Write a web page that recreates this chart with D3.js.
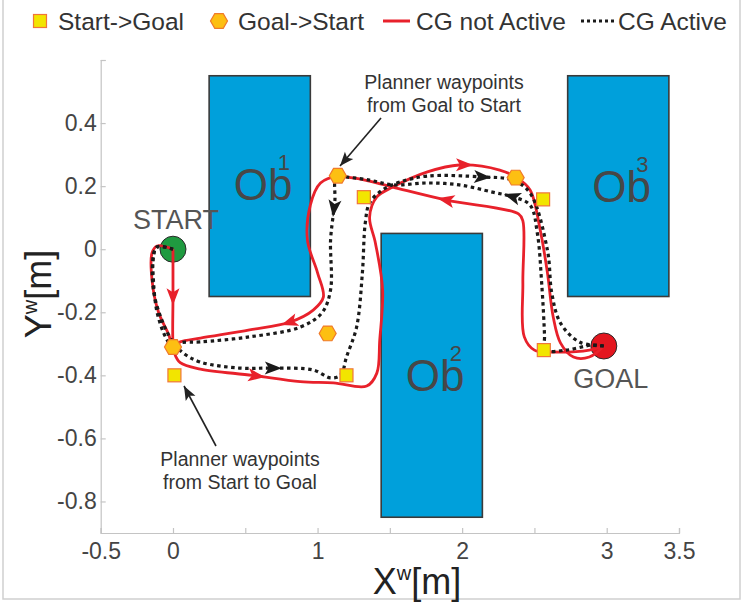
<!DOCTYPE html>
<html>
<head>
<meta charset="utf-8">
<script src="https://cdn.jsdelivr.net/npm/d3@7"></script>
<style>
  body { margin: 0; background: #fff; }
  svg { display: block; font-family: "Liberation Sans", Arial, sans-serif; }
</style>
</head>
<body>
<script>
var W = 747, H = 603;

// axis ticks
var xTicks = [-0.5, 0, 0.5, 1, 1.5, 2, 2.5, 3, 3.5];
var xTickLabels = ["-0.5", "0", "", "1", "", "2", "", "3", "3.5"];
var yTicks = [-0.8, -0.6, -0.4, -0.2, 0, 0.2, 0.4, 0.6];
var yTickLabels = ["-0.8", "-0.6", "-0.4", "-0.2", "0", "0.2", "0.4", ""];

// obstacles [x0, x1, y0, y1]
var obNames = ["1", "2", "3"];
var obX0 = [0.25, 1.44, 2.73];
var obX1 = [0.95, 2.14, 3.43];
var obY0 = [-0.15, -0.85, -0.15];
var obY1 = [0.55, 0.05, 0.55];
var obLabelY = [0.155, -0.45, 0.15];

var startPt = [0, 0];
var goalPt = [2.98, -0.307];

// planner waypoints
var wpStartGoal = [[0.01, -0.40], [1.20, -0.40], [1.32, 0.165], [2.56, 0.158], [2.565, -0.32]];
var wpGoalStart = [[2.37, 0.227], [1.14, 0.233], [1.07, -0.267], [0, -0.31]];

// trajectories, CG not active (red)
var redStartGoal = [[0, 0], [0, -0.15], [0, -0.30], [0.01, -0.33], [0.05, -0.36], [0.19, -0.38], [0.55, -0.40],
  [0.88, -0.42], [1.11, -0.424], [1.34, -0.434], [1.41, -0.393], [1.43, -0.288], [1.45, -0.129], [1.40, 0.02],
  [1.36, 0.102], [1.41, 0.166], [1.52, 0.197], [1.76, 0.245], [1.98, 0.267], [2.26, 0.251], [2.38, 0.226],
  [2.47, 0.188], [2.54, 0.061], [2.59, -0.075], [2.63, -0.215], [2.68, -0.297], [2.77, -0.342], [2.88, -0.342],
  [2.98, -0.307]];
var redGoalStart = [[2.98, -0.307], [2.88, -0.32], [2.62, -0.326], [2.50, -0.32], [2.43, -0.278], [2.42, -0.107],
  [2.42, 0.09], [2.39, 0.112], [1.89, 0.156], [1.52, 0.197], [1.29, 0.223], [1.20, 0.229], [1.14, 0.232],
  [1.02, 0.21], [0.95, 0.14], [0.93, 0.029], [1.00, -0.075], [1.04, -0.152], [0.97, -0.193], [0.81, -0.231],
  [0.53, -0.256], [0.19, -0.282], [0.05, -0.294], [0, -0.31], [-0.03, -0.27], [-0.10, -0.20], [-0.145, -0.098],
  [-0.145, -0.012], [-0.11, 0.01], [0, 0]];

// trajectories, CG active (black dotted)
var blkStartGoal = [[0, 0], [-0.11, 0.007], [-0.14, -0.041], [-0.135, -0.129], [-0.09, -0.209], [-0.01, -0.288],
  [0.07, -0.329], [0.19, -0.358], [0.46, -0.377], [0.69, -0.377], [0.97, -0.383], [1.09, -0.408], [1.16, -0.399],
  [1.20, -0.342], [1.27, -0.247], [1.31, -0.075], [1.33, 0.083], [1.36, 0.147], [1.45, 0.188], [1.57, 0.213],
  [1.76, 0.232], [2.14, 0.229], [2.35, 0.219], [2.47, 0.178], [2.59, -0.003], [2.62, -0.139], [2.68, -0.234],
  [2.81, -0.294], [2.98, -0.307]];
var blkGoalStart = [[2.98, -0.307], [2.90, -0.304], [2.72, -0.32], [2.57, -0.32], [2.57, -0.278], [2.55, -0.107],
  [2.52, 0.051], [2.47, 0.14], [2.35, 0.166], [2.21, 0.181], [1.98, 0.204], [1.76, 0.21], [1.52, 0.204],
  [1.36, 0.219], [1.20, 0.229], [1.13, 0.232], [1.12, 0.156], [1.11, 0.115], [1.09, 0.029], [1.09, -0.129],
  [1.03, -0.202], [0.88, -0.247], [0.53, -0.278], [0.19, -0.294], [0.05, -0.297], [0, -0.31], [-0.05, -0.28],
  [-0.11, -0.20], [-0.135, -0.10], [-0.135, -0.02], [-0.11, 0.007], [0, 0]];

// direction arrows along trajectories
var redArrowsSG = [[0, -0.15], [0.57, -0.41], [2.01, 0.267]];
var redArrowsGS = [[1.89, 0.156], [0.81, -0.231]];
var blkArrowsSG = [[0.69, -0.377], [2.14, 0.229]];
var blkArrowsGS = [[2.35, 0.166], [1.12, 0.13]];

var RED = "#e8212b", BLK = "#1a1a1a", TXT = "#444";

var x = d3.scaleLinear().domain([-0.5, 3.5]).range([100.7, 679]);
var y = d3.scaleLinear().domain([-0.9, 0.6]).range([533, 60]);

var svg = d3.select("body").append("svg").attr("width", W).attr("height", H);

// outer frame
svg.append("rect").attr("x", 3).attr("y", -2).attr("width", 737).attr("height", 601)
  .attr("fill", "none").attr("stroke", "#cfcfcf").attr("stroke-width", 1.5);

// axes
var xAxis = d3.axisBottom(x).tickValues(xTicks).tickSize(-5)
  .tickFormat(function(d, i) { return xTickLabels[i]; });
var yAxis = d3.axisLeft(y).tickValues(yTicks).tickSize(-5)
  .tickFormat(function(d, i) { return yTickLabels[i]; });

var gx = svg.append("g").attr("transform", "translate(0," + y(-0.9) + ")").call(xAxis);
var gy = svg.append("g").attr("transform", "translate(" + x(-0.5) + ",0)").call(yAxis);
[gx, gy].forEach(function(g) {
  g.select(".domain").attr("stroke", "#c4c4c4").attr("stroke-width", 1.2);
  g.selectAll(".tick line").attr("stroke", "#c4c4c4").attr("stroke-width", 1.2);
  g.selectAll(".tick text").attr("fill", TXT).attr("font-size", 23)
    .attr("font-family", "Liberation Sans, Arial, sans-serif");
});
gx.selectAll(".tick text").attr("dy", "0.71em").attr("y", 10);
gy.selectAll(".tick text").attr("x", -4);

// axis labels
var xl = svg.append("text").attr("x", 417).attr("y", 594).attr("text-anchor", "middle")
  .attr("fill", "#222").attr("font-size", 36);
xl.append("tspan").text("X");
xl.append("tspan").attr("font-size", 20).attr("dy", -14).text("w");
xl.append("tspan").attr("dy", 14).text("[m]");

var yl = svg.append("text").attr("transform", "translate(51,294) rotate(-90)").attr("text-anchor", "middle")
  .attr("fill", "#222").attr("font-size", 36);
yl.append("tspan").text("Y");
yl.append("tspan").attr("font-size", 20).attr("dy", -14).text("w");
yl.append("tspan").attr("dy", 14).text("[m]");

// obstacles
obNames.forEach(function(n, i) {
  svg.append("rect")
    .attr("x", x(obX0[i])).attr("y", y(obY1[i]))
    .attr("width", x(obX1[i]) - x(obX0[i])).attr("height", y(obY0[i]) - y(obY1[i]))
    .attr("fill", "#00a0db").attr("stroke", "#3a3a3a").attr("stroke-width", 1.6);
  var cx = (x(obX0[i]) + x(obX1[i])) / 2;
  svg.append("text").attr("x", cx - 26).attr("y", y(obLabelY[i]))
    .attr("fill", "#474747").attr("font-size", 44).text("Ob");
  svg.append("text").attr("x", cx + 18).attr("y", y(obLabelY[i]) - 30)
    .attr("fill", "#474747").attr("font-size", 22).text(n);
});

// start / goal
svg.append("circle").attr("cx", x(startPt[0])).attr("cy", y(startPt[1])).attr("r", 13)
  .attr("fill", "#1f9a40").attr("stroke", "#2b2b2b").attr("stroke-width", 1);
svg.append("circle").attr("cx", x(goalPt[0])).attr("cy", y(goalPt[1])).attr("r", 13)
  .attr("fill", "#e3161f").attr("stroke", "#2b2b2b").attr("stroke-width", 1);
svg.append("text").attr("x", x(startPt[0]) + 3).attr("y", 229).attr("text-anchor", "middle")
  .attr("fill", "#555").attr("font-size", 27).text("START");
svg.append("text").attr("x", x(goalPt[0]) + 7).attr("y", 388).attr("text-anchor", "middle")
  .attr("fill", "#555").attr("font-size", 27).text("GOAL");

// trajectories
var line = d3.line().x(function(d) { return x(d[0]); }).y(function(d) { return y(d[1]); })
  .curve(d3.curveCatmullRom.alpha(0.5));

function drawPath(data, color, dotted) {
  var p = svg.append("path").datum(data).attr("d", line).attr("fill", "none")
    .attr("stroke", color).attr("stroke-width", dotted ? 3.2 : 2.8)
    .attr("stroke-linejoin", "round");
  if (dotted) p.attr("stroke-dasharray", "3.5,3.5");
  return p.node();
}

function drawArrows(node, pts, color) {
  var L = node.getTotalLength();
  pts.forEach(function(pt) {
    var px = x(pt[0]), py = y(pt[1]);
    var best = 0, bd = 1e9;
    for (var l = 0; l <= L; l += 1) {
      var p = node.getPointAtLength(l);
      var dd = (p.x - px) * (p.x - px) + (p.y - py) * (p.y - py);
      if (dd < bd) { bd = dd; best = l; }
    }
    var c = node.getPointAtLength(best);
    var a = node.getPointAtLength(Math.max(0, best - 3));
    var b = node.getPointAtLength(Math.min(L, best + 3));
    var ang = Math.atan2(b.y - a.y, b.x - a.x) * 180 / Math.PI;
    svg.append("path").attr("d", "M9,0 L-8,-6.5 L-4,0 L-8,6.5 Z")
      .attr("transform", "translate(" + c.x + "," + c.y + ") rotate(" + ang + ")")
      .attr("fill", color);
  });
}

var n1 = drawPath(redStartGoal, RED, false);
var n2 = drawPath(redGoalStart, RED, false);
var n3 = drawPath(blkStartGoal, BLK, true);
var n4 = drawPath(blkGoalStart, BLK, true);
drawArrows(n1, redArrowsSG, RED);
drawArrows(n2, redArrowsGS, RED);
drawArrows(n3, blkArrowsSG, BLK);
drawArrows(n4, blkArrowsGS, BLK);

// markers
function hexPath(r) {
  var pts = d3.range(6).map(function(k) {
    var a = k * Math.PI / 3;
    return [r * Math.cos(a), r * Math.sin(a)];
  });
  return "M" + pts.join("L") + "Z";
}
function square(g, cx, cy) {
  g.append("rect").attr("x", cx - 6.5).attr("y", cy - 6.5).attr("width", 13).attr("height", 13)
    .attr("fill", "#f2e500").attr("stroke", "#f0763a").attr("stroke-width", 1.2);
}
function hexagon(g, cx, cy) {
  g.append("path").attr("d", hexPath(8.5)).attr("transform", "translate(" + cx + "," + cy + ")")
    .attr("fill", "#fdbf12").attr("stroke", "#f07a2a").attr("stroke-width", 1.2);
}
wpStartGoal.forEach(function(d) { square(svg, x(d[0]), y(d[1])); });
wpGoalStart.forEach(function(d) { hexagon(svg, x(d[0]), y(d[1])); });

// annotations
function annoArrow(x1, y1, x2, y2) {
  svg.append("line").attr("x1", x1).attr("y1", y1).attr("x2", x2).attr("y2", y2)
    .attr("stroke", "#222").attr("stroke-width", 1.6);
  var ang = Math.atan2(y2 - y1, x2 - x1) * 180 / Math.PI;
  svg.append("path").attr("d", "M0,0 L-14,-5.5 L-11,0 L-14,5.5 Z")
    .attr("transform", "translate(" + x2 + "," + y2 + ") rotate(" + ang + ")").attr("fill", "#222");
}
annoArrow(381, 118, 340, 166);
annoArrow(216, 446, 184, 386);

function annoText(cx, y1, lines) {
  lines.forEach(function(s, i) {
    svg.append("text").attr("x", cx).attr("y", y1 + i * 23).attr("text-anchor", "middle")
      .attr("fill", "#333").attr("font-size", 19.5).text(s);
  });
}
annoText(444, 89, ["Planner waypoints", "from Goal to Start"]);
annoText(240, 466, ["Planner waypoints", "from Start to Goal"]);

// legend
var lg = svg.append("g");
square(lg, 40, 21);
lg.append("text").attr("x", 58).attr("y", 30).attr("fill", "#333").attr("font-size", 24.5).text("Start->Goal");
hexagon(lg, 219, 21);
lg.append("text").attr("x", 238).attr("y", 30).attr("fill", "#333").attr("font-size", 24.5).text("Goal->Start");
lg.append("line").attr("x1", 383).attr("x2", 410).attr("y1", 21).attr("y2", 21)
  .attr("stroke", RED).attr("stroke-width", 3);
lg.append("text").attr("x", 416).attr("y", 30).attr("fill", "#333").attr("font-size", 24.5).text("CG not Active");
lg.append("line").attr("x1", 581).attr("x2", 614).attr("y1", 21).attr("y2", 21)
  .attr("stroke", BLK).attr("stroke-width", 3).attr("stroke-dasharray", "3,3");
lg.append("text").attr("x", 618).attr("y", 30).attr("fill", "#333").attr("font-size", 24.5).text("CG Active");
</script>
</body>
</html>
